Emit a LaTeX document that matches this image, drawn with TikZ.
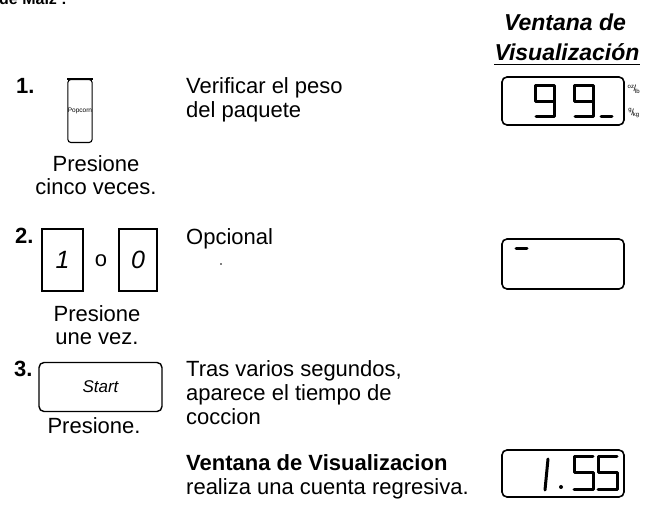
\documentclass[tikz,border=0pt]{standalone}
\usepackage{fontspec}
\setmainfont{Liberation Sans}
\usetikzlibrary{positioning}
\tikzset{
    body/.style={inner sep=0pt, anchor=base west, align=left, font=\fontsize{22}{24}\selectfont},
    stepnum/.style={inner sep=0pt, anchor=base west, font=\fontsize{22}{24}\selectfont\bfseries},
    hint/.style={inner sep=0pt, anchor=base, align=center, font=\fontsize{22}{23.5}\selectfont},
    heading/.style={inner sep=0pt, anchor=base, font=\fontsize{23}{25}\selectfont\bfseries\itshape},
    keybox/.style={draw, line width=1.1pt, inner sep=0pt},
    window/.style={draw, line width=1.6pt, rounded corners=5pt, minimum width=122pt, inner sep=0pt},
    seg/.style={line width=3pt, line cap=round, line join=round},
    unit/.style={inner sep=0pt, font=\fontsize{9}{9}\selectfont},
}

\begin{document}
\begin{tikzpicture}[x=1pt, y=-1pt]
\useasboundingbox (0,0) rectangle (649,518);

\node[inner sep=0pt, anchor=base west, font=\fontsize{16}{18}\selectfont\bfseries] (maiz) at (-1,5) {de Maíz :};
\node[heading] (head1) at (565,31) {Ventana de};
\node[heading] (head2) at (567,61) {Visualización};
\draw[line width=1.3pt] ([yshift=-3.5pt]head2.base west) -- ([yshift=-3.5pt]head2.base east);

% paso 1
\node[stepnum] (n1) at (16,94) {1.};
\node[keybox, rounded corners=3pt, minimum width=24pt, minimum height=63pt, font=\fontsize{6.5}{7}\selectfont] (popkey) at (80,111) {Popcorn};
\draw[line width=1.6pt] (popkey.north west) -- (popkey.north east);
\node[body] (verif) at (186,118) {Verificar el peso\\del paquete};
\node[hint] (pres1) at (96,195) {Presione\\cinco veces.};

\node[window, minimum height=48pt] (win1) at (563,101) {};
\foreach \x in {535,574} {
    \draw[seg] (\x+1,117) -- (\x+19,117) -- (\x+19,86) -- (\x,86) -- (\x,101.5) -- (\x+19,101.5);
}
\draw[seg] (601,117) -- (612,117);
\node[unit] (unit1) at (634,89) {\textsuperscript{oz}\kern-1pt/\kern-1pt\textsubscript{lb}};
\node[unit] (unit2) at (634,113) {\textsuperscript{g}\kern-1pt/\kern-1pt\textsubscript{kg}};

% paso 2
\node[stepnum] (n2) at (15,244) {2.};
\node[keybox, minimum width=41pt, minimum height=62pt, font=\fontsize{25}{25}\selectfont\itshape] (key1) at (62.5,260) {1};
\node[hint] (keyor) at (101,267) {o};
\node[keybox, minimum width=38pt, minimum height=62pt, font=\fontsize{25}{25}\selectfont\itshape] (key0) at (138,260) {0};
\node[body] (opc) at (186,245) {Opcional};
\fill (221,264) circle (0.9);
\node[hint] (pres2) at (97,345) {Presione\\une vez.};

\node[window, minimum height=50pt] (win2) at (563,264) {};
\draw[seg] (516,249) -- (527,249);

% paso 3
\node[stepnum] (n3) at (14,377) {3.};
\node[keybox, line width=1.4pt, rounded corners=5pt, minimum width=123pt, minimum height=49pt, font=\fontsize{17}{17}\selectfont\itshape] (startkey) at (100.5,387) {Start};
\node[body] (tras) at (186,425) {Tras varios segundos,\\aparece el tiempo de\\coccion};
\node[hint] (pres3) at (94,434) {Presione.};

\node[body] (cuenta) at (186,495) {\textbf{Ventana de Visualizacion}\\realiza una cuenta regresiva.};

\node[window, minimum height=47pt] (win3) at (563,473.5) {};
\draw[seg] (548,459) -- (545,490);
\fill (561,487) circle (2);
\foreach \x in {574,598} {
    \draw[seg] (\x+19,457) -- (\x,457) -- (\x,472.5) -- (\x+19,472.5) -- (\x+19,490) -- (\x,490);
}
\end{tikzpicture}
\end{document}
